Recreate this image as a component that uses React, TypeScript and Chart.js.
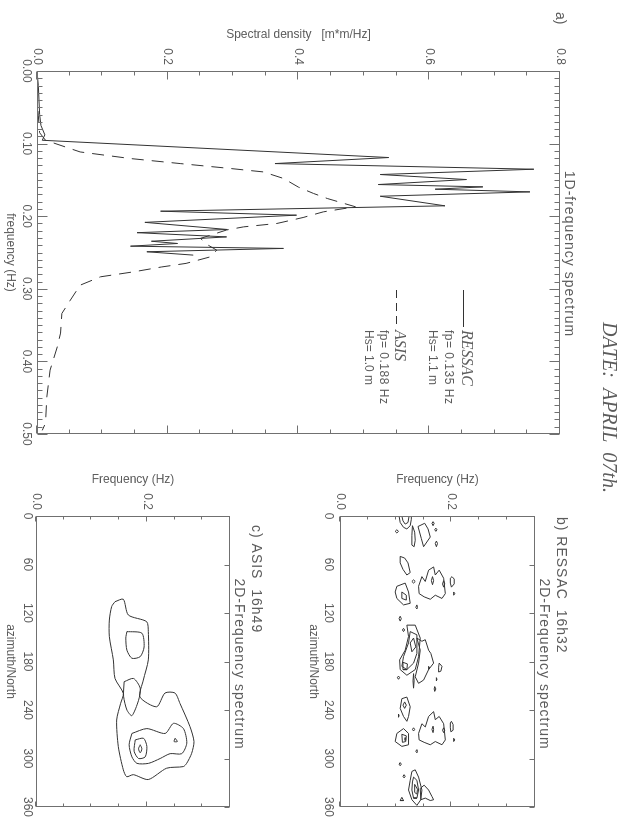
import React, { useEffect, useRef } from "react";
import { Chart, registerables } from "chart.js";

Chart.register(...registerables);

// ---------------- data ----------------
// a) 1D frequency spectra
const ressacFreq = [0, 0.02, 0.04, 0.06, 0.075, 0.088, 0.0954, 0.1192, 0.1275, 0.1353, 0.1426, 0.1495, 0.1564, 0.1596, 0.1628, 0.1665, 0.1725, 0.1857, 0.1931, 0.1986, 0.2085, 0.2183, 0.2227, 0.2285, 0.2345, 0.2376, 0.2413, 0.2444, 0.249, 0.2536];
const ressacDensity = [0, 0.002, 0.003, 0.004, 0.006, 0.012, 0.008, 0.538, 0.364, 0.76, 0.525, 0.657, 0.522, 0.682, 0.609, 0.754, 0.525, 0.624, 0.189, 0.397, 0.165, 0.291, 0.153, 0.29, 0.175, 0.215, 0.143, 0.377, 0.168, 0.239];

const asisFreq = [0, 0.05, 0.085, 0.0954, 0.1115, 0.1206, 0.1275, 0.1343, 0.139, 0.148, 0.16, 0.1687, 0.1756, 0.182, 0.187, 0.194, 0.2018, 0.21, 0.2147, 0.219, 0.2306, 0.24, 0.2468, 0.256, 0.265, 0.27, 0.2766, 0.2835, 0.295, 0.3156, 0.334, 0.361, 0.38, 0.412, 0.449, 0.485, 0.495];
const asisDensity = [0, 0.001, 0.004, 0.013, 0.066, 0.143, 0.219, 0.296, 0.346, 0.377, 0.4, 0.423, 0.444, 0.468, 0.487, 0.438, 0.407, 0.367, 0.316, 0.29, 0.25, 0.262, 0.275, 0.265, 0.228, 0.19, 0.148, 0.097, 0.066, 0.051, 0.038, 0.036, 0.031, 0.02, 0.015, 0.013, 0.008];

const densityTicks = [0, 0.2, 0.4, 0.6, 0.8];
const frequencyTicks1D = [0, 0.1, 0.2, 0.3, 0.4, 0.5];
const azimuthTicks = [0, 60, 120, 180, 240, 300, 360];
const frequencyTicks2D = [0, 0.2];

// b) RESSAC 2D spectrum contours: [azimuth (deg), frequency (Hz)]
const ressacContours: number[][][] = [
  [[0, 0.106], [8, 0.108], [14, 0.114], [16, 0.12], [12, 0.126], [4, 0.128], [0, 0.128]],
  [[0, 0.111], [6, 0.113], [10, 0.117], [8, 0.122], [0, 0.124]],
  [[17, 0.102], [19, 0.105], [21, 0.102], [19, 0.099]],
  [[12, 0.13], [20, 0.134], [30, 0.135], [38, 0.133], [36, 0.129], [24, 0.129]],
  [[13, 0.14], [9, 0.152], [16, 0.158], [26, 0.162], [38, 0.15], [28, 0.146]],
  [[9, 0.165], [12, 0.167], [9, 0.169], [7, 0.167]],
  [[15, 0.172], [17, 0.17], [19, 0.172], [17, 0.174]],
  [[31, 0.173], [34, 0.171], [38, 0.173], [34, 0.175]],
  [[50, 0.108], [52, 0.116], [58, 0.122], [70, 0.126], [73, 0.12], [66, 0.113], [58, 0.108]],
  [[87, 0.102], [83, 0.117], [94, 0.123], [108, 0.126], [110, 0.114], [102, 0.102], [94, 0.099]],
  [[94, 0.111], [98, 0.119], [104, 0.119], [102, 0.111]],
  [[79, 0.132], [81, 0.135], [83, 0.132], [81, 0.129]],
  [[87, 0.141], [75, 0.147], [81, 0.153], [67, 0.159], [63, 0.168], [73, 0.171], [67, 0.178], [77, 0.186], [96, 0.189], [102, 0.183], [98, 0.171], [103, 0.162], [100, 0.151], [96, 0.142]],
  [[75, 0.166], [80, 0.168], [85, 0.166], [80, 0.164]],
  [[80, 0.186], [84, 0.188], [88, 0.186], [84, 0.184]],
  [[75, 0.201], [78, 0.205], [84, 0.205], [88, 0.2], [83, 0.198], [77, 0.198]],
  [[94, 0.204], [96, 0.206], [98, 0.204]],
  [[110, 0.138], [113, 0.139], [115, 0.138], [113, 0.136]],
  [[124, 0.108], [127, 0.11], [130, 0.108], [127, 0.106]],
  [[139, 0.114], [141, 0.116], [143, 0.114], [141, 0.112]],
  [[135, 0.12], [135, 0.135], [151, 0.144], [174, 0.141], [190, 0.135], [197, 0.12], [190, 0.108], [178, 0.107], [166, 0.117], [149, 0.123]],
  [[143, 0.126], [147, 0.138], [170, 0.138], [182, 0.132], [190, 0.12], [186, 0.111], [174, 0.114], [157, 0.123]],
  [[151, 0.132], [162, 0.136], [168, 0.129], [157, 0.126]],
  [[181, 0.113], [183, 0.121], [190, 0.12], [190, 0.113]],
  [[151, 0.138], [155, 0.147], [153, 0.153], [166, 0.159], [170, 0.163], [182, 0.168], [190, 0.159], [203, 0.15], [207, 0.141], [199, 0.135], [182, 0.141], [166, 0.144]],
  [[182, 0.178], [186, 0.183], [192, 0.181], [193, 0.177], [187, 0.177]],
  [[211, 0.17], [214, 0.172], [217, 0.17], [214, 0.169]],
  [[198, 0.105], [200, 0.107], [202, 0.105], [200, 0.103]],
  [[195, 0.132], [204, 0.133], [213, 0.132], [204, 0.131]],
  [[186, 0.159], [188, 0.161], [190, 0.159]],
  [[200, 0.173], [202, 0.174], [204, 0.173]],
  [[226, 0.111], [224, 0.12], [236, 0.126], [248, 0.123], [254, 0.12], [248, 0.114], [238, 0.108]],
  [[230, 0.116], [234, 0.119], [238, 0.116], [234, 0.113]],
  [[245, 0.105], [247, 0.106], [249, 0.105]],
  [[269, 0.102], [263, 0.114], [269, 0.123], [283, 0.123], [285, 0.111], [279, 0.099]],
  [[270, 0.111], [272, 0.119], [279, 0.118], [280, 0.112]],
  [[274, 0.117], [276, 0.118], [278, 0.117], [276, 0.116]],
  [[262, 0.132], [264, 0.134], [266, 0.132], [264, 0.13]],
  [[269, 0.141], [257, 0.147], [261, 0.153], [248, 0.159], [242, 0.168], [252, 0.171], [248, 0.178], [257, 0.186], [277, 0.189], [283, 0.183], [279, 0.171], [283, 0.162], [280, 0.151], [277, 0.142]],
  [[260, 0.167], [264, 0.168], [268, 0.167], [264, 0.165]],
  [[262, 0.186], [265, 0.188], [268, 0.186], [265, 0.184]],
  [[254, 0.2], [258, 0.203], [265, 0.203], [267, 0.199], [262, 0.198], [256, 0.198]],
  [[275, 0.204], [277, 0.206], [279, 0.204]],
  [[289, 0.138], [291, 0.139], [293, 0.138], [291, 0.136]],
  [[305, 0.108], [307, 0.11], [309, 0.108], [307, 0.106]],
  [[320, 0.115], [322, 0.117], [324, 0.115], [322, 0.113]],
  [[316, 0.129], [314, 0.135], [323, 0.141], [339, 0.147], [351, 0.145], [358, 0.138], [351, 0.129], [339, 0.123], [327, 0.126]],
  [[323, 0.132], [327, 0.138], [339, 0.141], [349, 0.138], [349, 0.132], [339, 0.129], [329, 0.13]],
  [[332, 0.134], [338, 0.139], [344, 0.138], [342, 0.134]],
  [[337, 0.144], [333, 0.151], [339, 0.159], [347, 0.165], [351, 0.168], [352, 0.162], [349, 0.153], [351, 0.145]],
  [[352, 0.108], [348, 0.111], [352, 0.114]],
];

// c) ASIS 2D spectrum contours: [azimuth (deg), frequency (Hz)]
const asisContours: number[][][] = [
  [[106, 0.1425], [103, 0.1575], [122.5, 0.1666], [130.7, 0.1996], [143, 0.2026], [178, 0.2026], [203, 0.1936], [224, 0.1876], [236, 0.2177], [219, 0.2327], [219, 0.2507], [232, 0.2598], [260.6, 0.2778], [279, 0.285], [293.6, 0.2808], [306, 0.2718], [310, 0.2658], [312, 0.2357], [326, 0.2026], [320, 0.1756], [322.5, 0.1636], [314, 0.1575], [285.4, 0.1485], [252.4, 0.1455], [231.7, 0.1527], [219.4, 0.1575], [201, 0.1425], [178, 0.1395], [149.3, 0.1323], [128.7, 0.1323], [112, 0.1365]],
  [[205, 0.159], [201, 0.176], [213, 0.188], [228, 0.185], [247, 0.173], [240, 0.164], [223, 0.158]],
  [[143, 0.164], [145, 0.191], [162, 0.195], [174, 0.188], [176, 0.173], [166, 0.164], [151, 0.162]],
  [[269, 0.173], [263, 0.2], [269, 0.233], [256.5, 0.248], [263, 0.266], [281, 0.272], [294, 0.263], [294, 0.242], [300, 0.224], [306, 0.203], [306, 0.182], [298, 0.173], [283, 0.168]],
  [[277, 0.179], [275, 0.194], [285, 0.2], [298, 0.197], [300, 0.185], [291, 0.177]],
  [[283, 0.188], [288, 0.191], [293, 0.188], [288, 0.185]],
  [[275, 0.251], [279, 0.255], [279, 0.249]],
];

// ---------------- style ----------------
const SANS = "'Liberation Sans', Arial, sans-serif";
const SERIF = "'Liberation Serif', 'Times New Roman', serif";
const TEXT = "#5c5c5c";
const AXIS = "#707070";
const INK = "#333333";

Chart.defaults.font.family = SANS;
Chart.defaults.color = TEXT;

type Side = "top" | "bottom" | "left" | "right";
type TickSpec = { step: number; major: number; minorLen: number; majorLen: number; sides: Side[] };

function makeFramePlugin(xs: TickSpec, ys: TickSpec) {
  return {
    id: "frame",
    afterDraw(chart: any) {
      const { ctx, chartArea: ca, scales } = chart;
      ctx.save();
      ctx.strokeStyle = AXIS;
      ctx.lineWidth = 1;
      const L = Math.round(ca.left) + 0.5;
      const R = Math.round(ca.right) - 0.5;
      const T = Math.round(ca.top) + 0.5;
      const B = Math.round(ca.bottom) - 0.5;
      ctx.strokeRect(L, T, R - L, B - T);
      const marks = (scale: any, spec: TickSpec) => {
        const n = Math.round((scale.max - scale.min) / spec.step);
        ctx.beginPath();
        for (let i = 0; i <= n; i++) {
          const v = scale.min + i * spec.step;
          const q = v / spec.major;
          const len = Math.abs(q - Math.round(q)) < 1e-6 ? spec.majorLen : spec.minorLen;
          const p = Math.round(scale.getPixelForValue(v)) + 0.5;
          for (const s of spec.sides) {
            if (s === "top") { ctx.moveTo(p, T); ctx.lineTo(p, T + len); }
            if (s === "bottom") { ctx.moveTo(p, B); ctx.lineTo(p, B - len); }
            if (s === "left") { ctx.moveTo(L, p); ctx.lineTo(L + len, p); }
            if (s === "right") { ctx.moveTo(R, p); ctx.lineTo(R - len, p); }
          }
        }
        ctx.stroke();
      };
      marks(scales.x, xs);
      marks(scales.y, ys);
      ctx.restore();
    },
  };
}

type Note =
  | { text: string; x: number; y: number; font: string; align?: CanvasTextAlign; spacing?: number }
  | { line: true; x1: number; x2: number; y: number; dash?: number[] };

function makeNotesPlugin(items: Note[]) {
  return {
    id: "notes",
    afterDraw(chart: any) {
      const ctx = chart.ctx as any;
      ctx.save();
      for (const it of items) {
        if ("line" in it) {
          ctx.strokeStyle = INK;
          ctx.lineWidth = 1;
          ctx.setLineDash(it.dash || []);
          ctx.beginPath();
          ctx.moveTo(it.x1, it.y);
          ctx.lineTo(it.x2, it.y);
          ctx.stroke();
          ctx.setLineDash([]);
        } else {
          ctx.font = it.font;
          ctx.fillStyle = TEXT;
          ctx.textAlign = it.align || "left";
          ctx.textBaseline = "alphabetic";
          ctx.letterSpacing = (it.spacing || 0) + "px";
          ctx.fillText(it.text, it.x, it.y);
          ctx.letterSpacing = "0px";
        }
      }
      ctx.restore();
    },
  };
}

const tickFont = { family: SANS, size: 12 };

function make1D(): any {
  return {
    type: "scatter",
    data: {
      datasets: [
        {
          label: "RESSAC",
          data: ressacFreq.map((f, i) => ({ x: f, y: ressacDensity[i] })),
          showLine: true, borderColor: INK, borderWidth: 1, pointRadius: 0, fill: false,
        },
        {
          label: "ASIS",
          data: asisFreq.map((f, i) => ({ x: f, y: asisDensity[i] })),
          showLine: true, borderColor: INK, borderWidth: 1, pointRadius: 0, fill: false, borderDash: [12, 8],
        },
      ],
    },
    options: {
      responsive: false, animation: false, events: [],
      layout: { padding: { top: 70, right: 389, left: 0, bottom: 0 } },
      plugins: { legend: { display: false }, tooltip: { enabled: false } },
      scales: {
        x: {
          type: "linear", position: "bottom", min: 0, max: 0.5,
          afterBuildTicks: (s: any) => { s.ticks = frequencyTicks1D.map((value) => ({ value })); },
          afterFit: (s: any) => { s.height = 37; },
          grid: { display: false, drawTicks: false }, border: { display: false },
          ticks: { padding: 3, color: TEXT, font: tickFont, autoSkip: false, maxRotation: 0, callback: (v: any) => Number(v).toFixed(2) },
          title: { display: true, text: "frequency (Hz)", color: TEXT, font: tickFont, padding: { top: 0, bottom: 3 } },
        },
        y: {
          type: "linear", position: "left", min: 0, max: 0.8,
          afterBuildTicks: (s: any) => { s.ticks = densityTicks.map((value) => ({ value })); },
          afterFit: (s: any) => { s.width = 71; },
          grid: { display: false, drawTicks: false }, border: { display: false },
          ticks: { padding: 6, color: TEXT, font: tickFont, autoSkip: false, callback: (v: any) => Number(v).toFixed(1) },
          title: { display: true, text: "Spectral density   [m*m/Hz]", color: TEXT, font: tickFont, padding: { top: 27, bottom: 0 } },
        },
      },
    },
    plugins: [
      makeFramePlugin(
        { step: 0.01, major: 0.1, minorLen: 5, majorLen: 10, sides: ["top", "bottom"] },
        { step: 0.05, major: 0.2, minorLen: 4, majorLen: 8, sides: ["left", "right"] }
      ),
      makeNotesPlugin([
        { text: "DATE:  APRIL  07th.", x: 322, y: 27, font: `italic 20px ${SERIF}` },
        { text: "a)", x: 12, y: 74, font: `14px ${SANS}` },
        { text: "1D-frequency spectrum", x: 254, y: 65, font: `14px ${SANS}`, align: "center", spacing: 1 },
        { line: true, x1: 290, x2: 327, y: 166.5 },
        { text: "RESSAC", x: 330, y: 168, font: `italic 16px ${SERIF}` },
        { text: "fp= 0.135 Hz", x: 330, y: 185, font: `12px ${SANS}`, spacing: 0.5 },
        { text: "Hs= 1.1 m", x: 330, y: 201, font: `12px ${SANS}` },
        { line: true, x1: 290, x2: 327, y: 233.5, dash: [8, 5] },
        { text: "ASIS", x: 330, y: 235, font: `italic 16px ${SERIF}` },
        { text: "fp= 0.188 Hz", x: 330, y: 250, font: `12px ${SANS}`, spacing: 0.5 },
        { text: "Hs= 1.0 m", x: 330, y: 265, font: `12px ${SANS}` },
      ]),
    ],
  };
}

function make2D(
  contours: number[][][],
  p: { padTop: number; xHeight: number; xPad: number; titlePad: number; tension: number; notes: Note[] }
): any {
  return {
    type: "scatter",
    data: {
      datasets: contours.map((poly) => ({
        data: [...poly, poly[0]].map(([a, f]) => ({ x: a, y: f })),
        showLine: true, borderColor: INK, borderWidth: 1, pointRadius: 0, fill: false, tension: p.tension,
      })),
    },
    options: {
      responsive: false, animation: false, events: [],
      layout: { padding: { top: p.padTop, right: 16, left: 0, bottom: 0 } },
      plugins: { legend: { display: false }, tooltip: { enabled: false } },
      scales: {
        x: {
          type: "linear", position: "bottom", min: 0, max: 360,
          afterBuildTicks: (s: any) => { s.ticks = azimuthTicks.map((value) => ({ value })); },
          afterFit: (s: any) => { s.height = p.xHeight; },
          grid: { display: false, drawTicks: false }, border: { display: false },
          ticks: { padding: p.xPad, color: TEXT, font: tickFont, autoSkip: false, maxRotation: 0, callback: (v: any) => String(v) },
          title: { display: true, text: "azimuth/North", color: TEXT, font: tickFont, padding: { top: 0, bottom: p.titlePad } },
        },
        y: {
          type: "linear", position: "left", min: 0, max: 0.35,
          afterBuildTicks: (s: any) => { s.ticks = frequencyTicks2D.map((value) => ({ value })); },
          afterFit: (s: any) => { s.width = 56; },
          grid: { display: false, drawTicks: false }, border: { display: false },
          ticks: { padding: 6, color: TEXT, font: tickFont, autoSkip: false, callback: (v: any) => Number(v).toFixed(1) },
          title: { display: true, text: "Frequency (Hz)", color: TEXT, font: tickFont, padding: { top: 12, bottom: 0 } },
        },
      },
    },
    plugins: [
      makeFramePlugin(
        { step: 60, major: 60, minorLen: 5, majorLen: 5, sides: ["top"] },
        { step: 0.05, major: 0.2, minorLen: 3, majorLen: 5, sides: ["left", "right"] }
      ),
      makeNotesPlugin(p.notes),
    ],
  };
}

function ChartCanvas(props: { make: () => any; left: number; top: number; width: number; height: number }) {
  const ref = useRef<HTMLCanvasElement>(null);
  useEffect(() => {
    const chart = new Chart(ref.current as HTMLCanvasElement, props.make());
    return () => chart.destroy();
  }, []);
  return (
    <canvas
      ref={ref}
      width={props.width}
      height={props.height}
      style={{ position: "absolute", left: props.left, top: props.top, width: props.width, height: props.height }}
    />
  );
}

export default function App() {
  return (
    <div style={{ position: "fixed", left: 0, top: 0, width: 630, height: 823, overflow: "hidden", background: "#fff" }}>
      <div
        style={{
          position: "absolute", left: 0, top: 0, width: 823, height: 630,
          transformOrigin: "0 0", transform: "translateX(630px) rotate(90deg)",
        }}
      >
        <ChartCanvas make={make1D} left={0} top={0} width={823} height={630} />
        <ChartCanvas
          make={() =>
            make2D(ressacContours, {
              padTop: 55, xHeight: 35, xPad: 4, titlePad: 1, tension: 0,
              notes: [
                { text: "b) RESSAC  16h32", x: 57, y: 33, font: `14px ${SANS}`, spacing: 1 },
                { text: "2D-Frequency spectrum", x: 204, y: 50, font: `14px ${SANS}`, align: "center", spacing: 1 },
              ],
            })
          }
          left={460} top={40} width={363} height={285}
        />
        <ChartCanvas
          make={() =>
            make2D(asisContours, {
              padTop: 50, xHeight: 36, xPad: 1, titlePad: 3, tension: 0.25,
              notes: [
                { text: "c) ASIS  16h49", x: 65, y: 28, font: `14px ${SANS}`, spacing: 1 },
                { text: "2D-Frequency spectrum", x: 204, y: 45, font: `14px ${SANS}`, align: "center", spacing: 1 },
              ],
            })
          }
          left={460} top={350} width={363} height={280}
        />
      </div>
    </div>
  );
}
